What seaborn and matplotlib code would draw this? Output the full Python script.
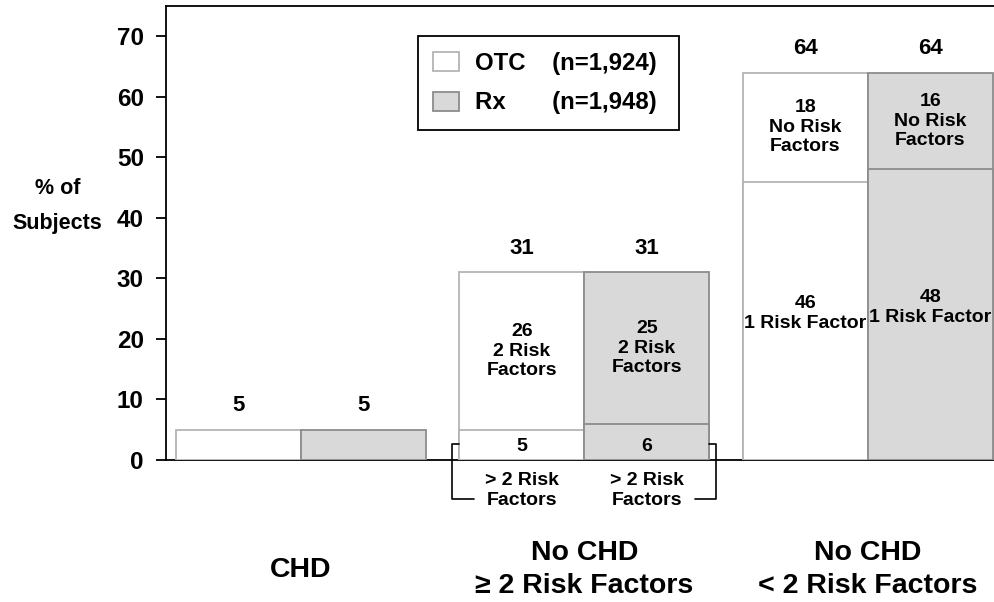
import matplotlib
matplotlib.use("Agg")
import matplotlib.pyplot as plt
from matplotlib.patches import Patch
import pandas as pd
import seaborn as sns

# ---- data -------------------------------------------------------------
groups = ["CHD", "No CHD\n\u2265 2 Risk Factors", "No CHD\n< 2 Risk Factors"]
arms = ["OTC", "Rx"]
arm_n = ["(n=1,924)", "(n=1,948)"]
# each bar is split into a lower and an upper segment (upper = 0 -> single block)
otc_lower = [5, 5, 46]
otc_upper = [0, 26, 18]
rx_lower = [5, 6, 48]
rx_upper = [0, 25, 16]
lower_names = ["", "", "1 Risk Factor"]
upper_names = ["", "2 Risk\nFactors", "No Risk\nFactors"]
bracket_name = "> 2 Risk\nFactors"

otc_total = [a + b for a, b in zip(otc_lower, otc_upper)]
rx_total = [a + b for a, b in zip(rx_lower, rx_upper)]

df = pd.DataFrame({
    "group": groups * 2,
    "arm": ["OTC"] * 3 + ["Rx"] * 3,
    "total": otc_total + rx_total,
    "lower": otc_lower + rx_lower,
})

# ---- style --------------------------------------------------------------
sns.set_style("ticks")
plt.rcParams["font.family"] = ["Liberation Sans", "DejaVu Sans"]
plt.rcParams["font.weight"] = "bold"
plt.rcParams["axes.labelweight"] = "bold"
for key in ("text.color", "axes.labelcolor", "xtick.color", "ytick.color",
            "xtick.labelcolor", "ytick.labelcolor"):
    plt.rcParams[key] = "black"

fill = {"OTC": "#ffffff", "Rx": "#d9d9d9"}
edge = {"OTC": "#b4b4b4", "Rx": "#8c8c8c"}

fig = plt.figure(figsize=(9.94, 6.02), dpi=100)
ax = fig.add_axes([166 / 994, 1 - 460 / 602, 828 / 994, 454 / 602])

common = dict(x="group", hue="arm", order=groups, hue_order=arms,
              palette=fill, width=0.882, gap=0, saturation=1,
              errorbar=None, linewidth=1.3, legend=False, ax=ax, zorder=3)
# full bar height, then the lower segment on top to mark the split
sns.barplot(data=df, y="total", **common)
sns.barplot(data=df[df["group"] != groups[0]], y="lower", **common)

for cont, arm in zip(ax.containers, arms * 2):
    for p in cont:
        p.set_edgecolor(edge[arm])

# ---- axes ---------------------------------------------------------------
ax.set_ylim(0, 75)
ax.set_yticks(range(0, 71, 10))
ax.set_xlim(-0.476, 2.445)
ax.set_xlabel("")
ax.set_ylabel("% of\nSubjects", rotation=0, fontsize=15.5, ha="center",
              va="center", linespacing=1.85)
ax.yaxis.set_label_coords(-0.131, 0.56)

for side in ("top", "left", "bottom"):
    ax.spines[side].set_color("black")
    ax.spines[side].set_linewidth(1.3)
ax.spines["right"].set_visible(False)
ax.tick_params(axis="y", length=7, width=1.3, pad=9, labelsize=17.5,
               colors="black")
ax.tick_params(axis="x", length=0, pad=79, labelsize=20.5, colors="black")
for lab in ax.get_xticklabels():
    lab.set_va("center")
    lab.set_linespacing(1.36)

# ---- labels -------------------------------------------------------------
otc_bars, rx_bars = ax.containers[0], ax.containers[1]
centers = [[p.get_x() + p.get_width() / 2 for p in otc_bars],
           [p.get_x() + p.get_width() / 2 for p in rx_bars]]
lowers = [otc_lower, rx_lower]
uppers = [otc_upper, rx_upper]
totals = [otc_total, rx_total]

for a in range(2):
    for g in range(3):
        x = centers[a][g]
        tot, lo, up = totals[a][g], lowers[a][g], uppers[a][g]
        ax.text(x, tot + 4, f"{tot}", ha="center", va="center",
                fontsize=16, zorder=5)
        if up:
            ax.text(x, (lo + tot) / 2, f"{up}\n{upper_names[g]}",
                    ha="center", va="center", fontsize=14, linespacing=1.22,
                    zorder=5)
        if g == 1:
            ax.text(x, 2.3, f"{lo}", ha="center", va="center", fontsize=14,
                    zorder=5)
            ax.text(x, -5.0, bracket_name, ha="center", va="center",
                    fontsize=14, linespacing=1.22, clip_on=False)
        elif g == 2:
            ax.text(x, lo / 2 + 1.2, f"{lo}\n{lower_names[g]}",
                    ha="center", va="center", fontsize=14, linespacing=1.22,
                    zorder=5)

# bracket around the "> 2 risk factor" segments
left = otc_bars[1].get_x()
right = rx_bars[1].get_x() + rx_bars[1].get_width()
off, tail, y_top, y_bot = 0.025, 0.075, 2.65, -6.45
bk = dict(color="black", lw=1.2, clip_on=False, zorder=4)
ax.plot([left, left - off, left - off, left - off + tail],
        [y_top, y_top, y_bot, y_bot], **bk)
ax.plot([right, right + off, right + off, right + off - tail],
        [y_top, y_top, y_bot, y_bot], **bk)

# ---- legend -------------------------------------------------------------
handles = [Patch(facecolor=fill[a], edgecolor=edge[a], linewidth=1.3)
           for a in arms]
labels = [f"OTC    {arm_n[0]} ", f"Rx       {arm_n[1]} "]
leg = ax.legend(handles, labels, loc="upper left",
                bbox_to_anchor=(0.304, 0.934), borderaxespad=0,
                fontsize=17.3, frameon=True, fancybox=False, framealpha=1,
                edgecolor="black", handlelength=1.05, handleheight=0.85,
                handletextpad=0.7, labelspacing=0.7, borderpad=0.65)
leg.get_frame().set_linewidth(1.3)
leg.set_zorder(6)

fig.savefig("out.png", dpi=100)
